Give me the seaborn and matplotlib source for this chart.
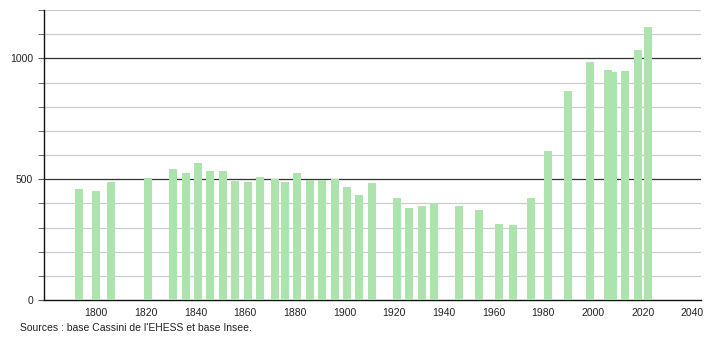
import matplotlib
matplotlib.use("Agg")
import matplotlib.pyplot as plt
import seaborn as sns
import pandas as pd

years = [1793, 1800, 1806, 1821, 1831, 1836, 1841, 1846, 1851, 1856, 1861, 1866,
         1872, 1876, 1881, 1886, 1891, 1896, 1901, 1906, 1911, 1921, 1926, 1931,
         1936, 1946, 1954, 1962, 1968, 1975, 1982, 1990, 1999, 2006, 2008, 2013,
         2018, 2022]
population = [460, 452, 489, 504, 543, 526, 568, 532, 532, 494, 489, 510,
              501, 489, 526, 498, 498, 500, 468, 433, 483, 421, 380, 388,
              400, 388, 371, 315, 311, 423, 615, 866, 986, 953, 945, 949,
              1036, 1130]
source_text = "Sources : base Cassini de l'EHESS et base Insee."

sns.set_style("white")
plt.rcParams['font.family'] = ['Liberation Sans', 'DejaVu Sans']

df = pd.DataFrame({"year": years, "pop": population})

fig = plt.figure(figsize=(7.1, 3.4), dpi=100)
ax = fig.add_axes([44/710, 40/340, (701-44)/710, 290/340])

# grid lines
for v in range(100, 1201, 100):
    if v % 500 == 0:
        ax.axhline(v, color="#333333", lw=0.9, zorder=1)
    else:
        ax.axhline(v, color="#cccccc", lw=0.9, zorder=1)

sns.barplot(data=df, x="year", y="pop", native_scale=True, width=1.6,
            color="#ade3ad", saturation=1, ax=ax, zorder=3,
            linewidth=0, edgecolor="none")

ax.set_xlim(1779, 2043.5)
ax.set_ylim(0, 1200)
ax.set_xticks(range(1800, 2041, 20))
ax.set_yticks([0, 500, 1000])
ax.set_yticks(range(0, 1201, 100), minor=True)
ax.set_xlabel("")
ax.set_ylabel("")
ax.tick_params(axis="x", length=0, labelsize=7.5, pad=6, colors="#222222")
ax.tick_params(axis="y", which="major", length=4, labelsize=7.5, pad=4, colors="#222222")
ax.tick_params(axis="y", which="minor", length=4, color="#555555")
ax.tick_params(axis="y", which="major", color="#555555")
ax.yaxis.set_tick_params(which="both", left=True)
for s in ["top", "right"]:
    ax.spines[s].set_visible(False)
for s in ["left", "bottom"]:
    ax.spines[s].set_color("#111111")
    ax.spines[s].set_linewidth(1.0)

fig.text(20/710, 1 - 328/340, source_text, fontsize=7.5, color="#222222",
         va="center", ha="left")

fig.savefig("out.png", dpi=100)
